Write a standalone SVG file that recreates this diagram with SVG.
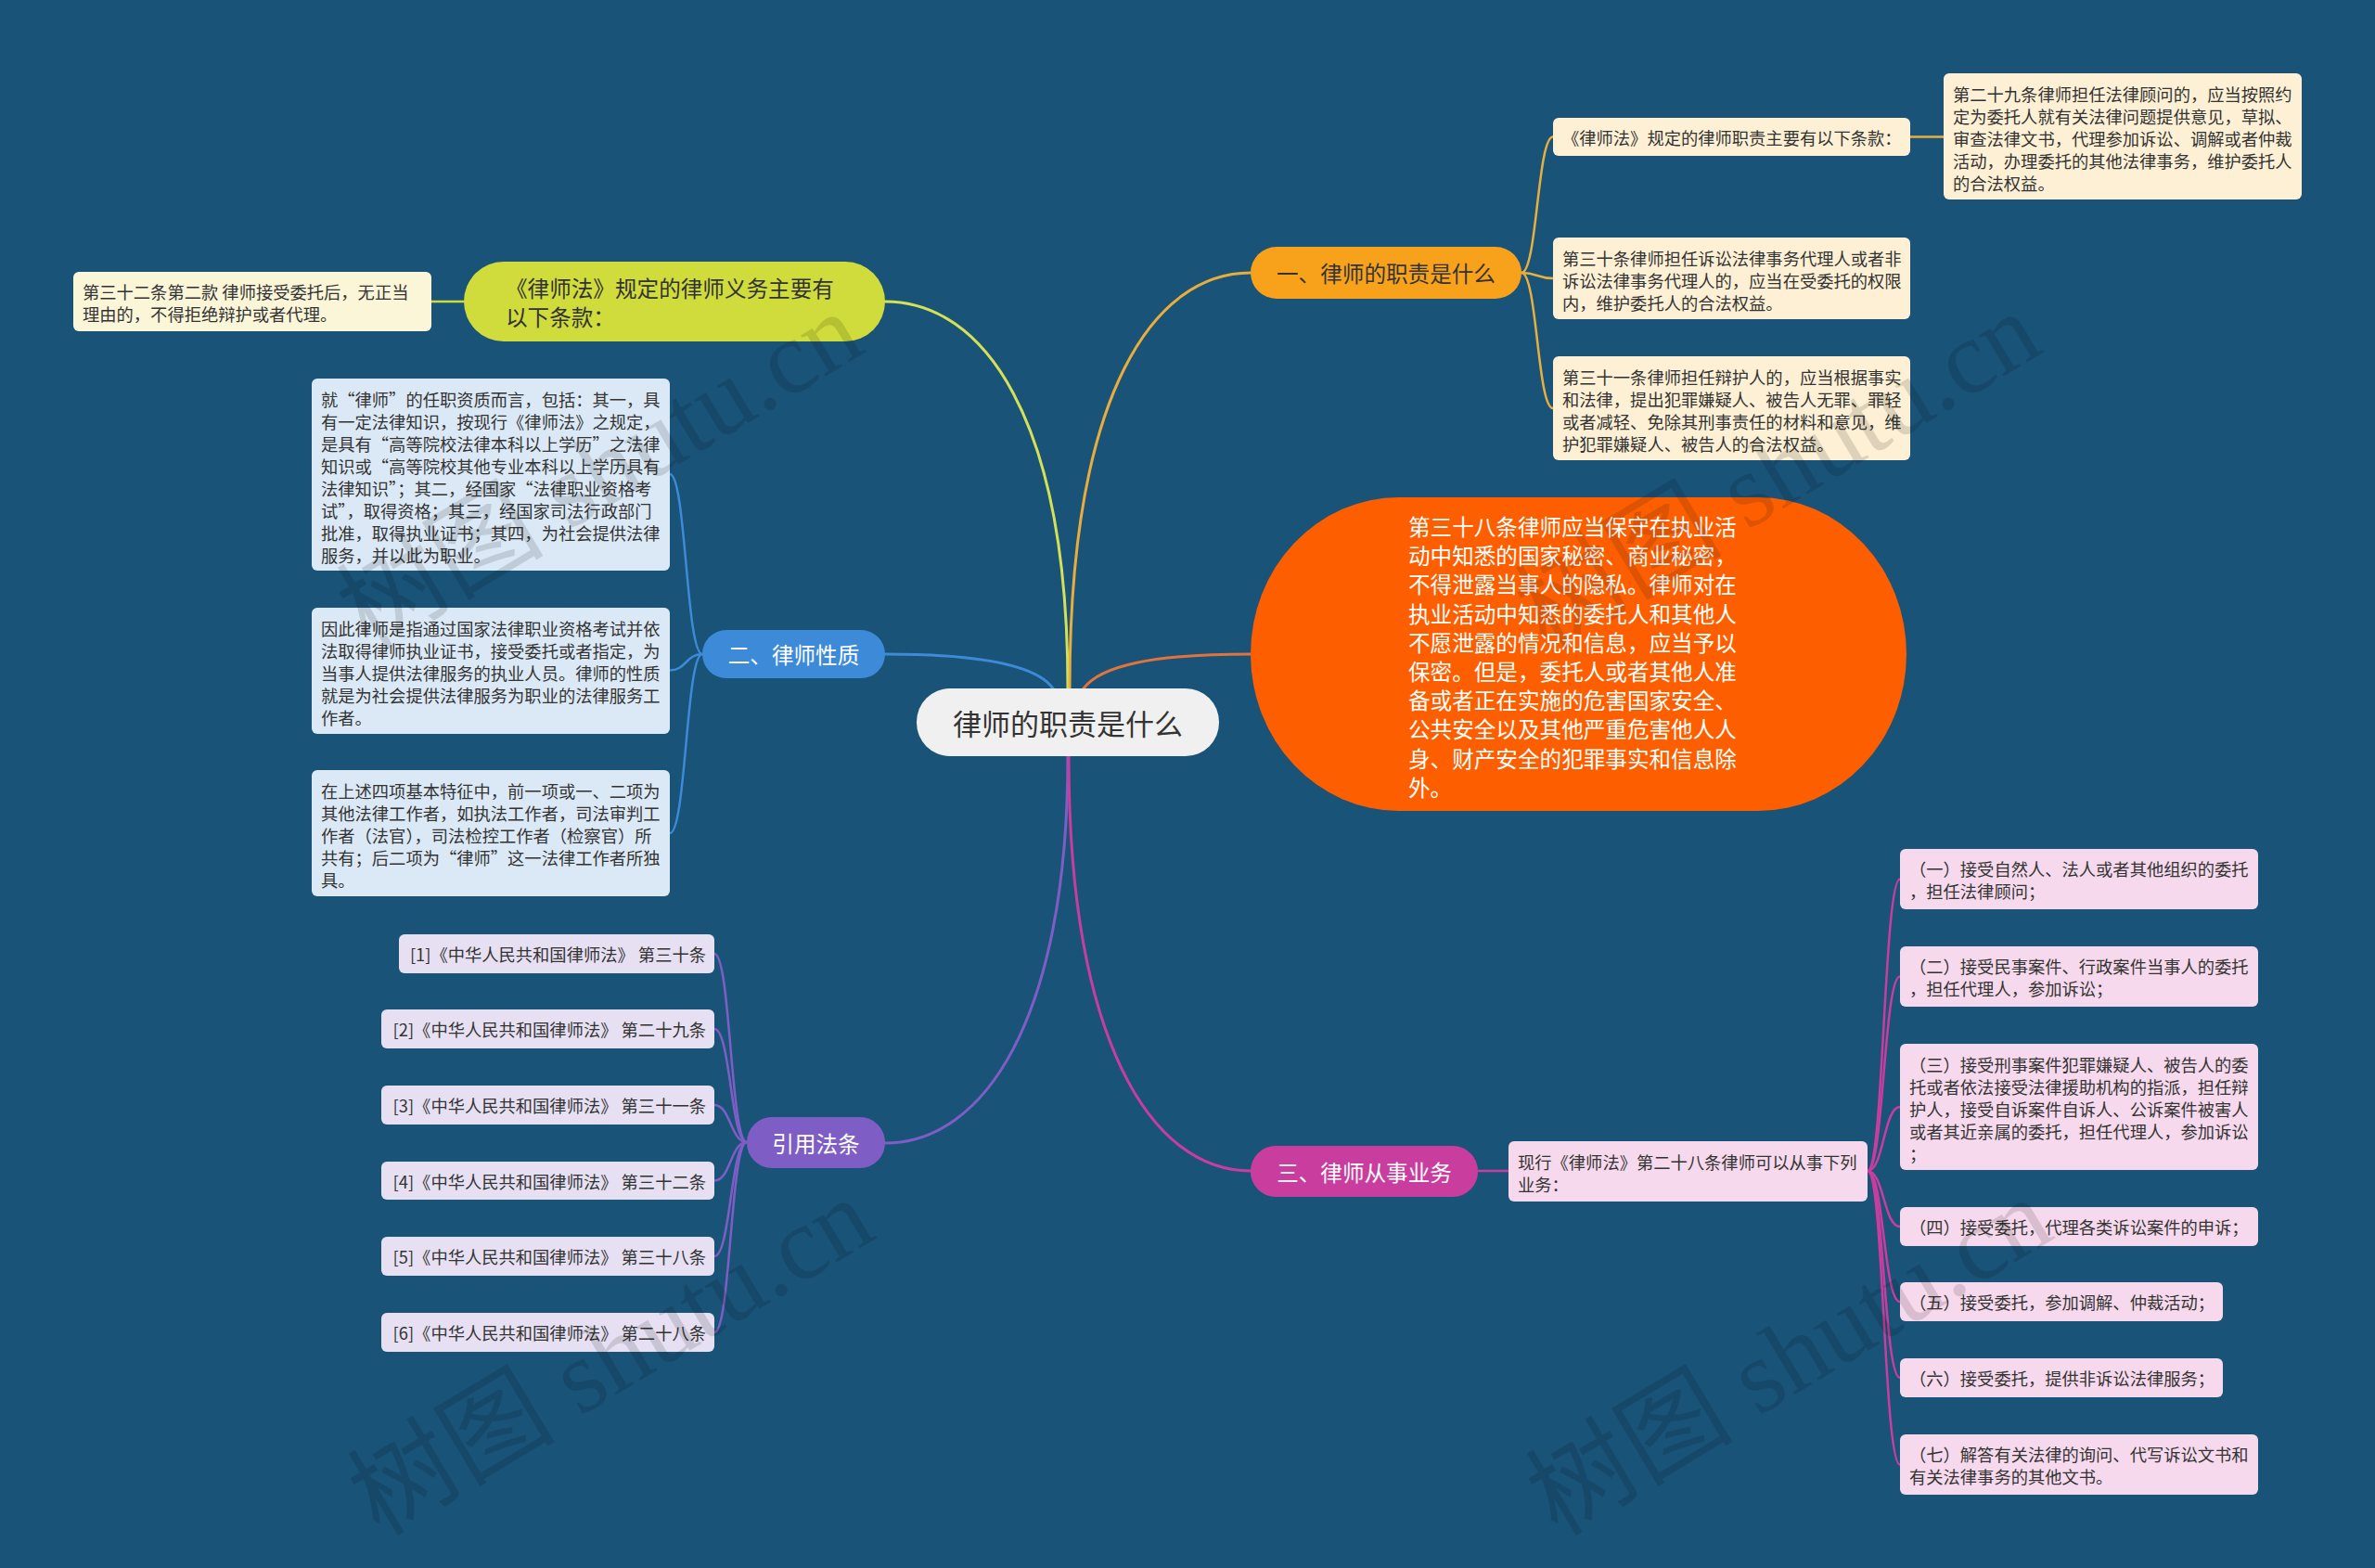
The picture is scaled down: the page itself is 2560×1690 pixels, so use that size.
<svg xmlns="http://www.w3.org/2000/svg" width="2560" height="1690" viewBox="0 0 2560 1690">
<style>
text{font-family:"Noto Sans CJK SC","Noto Sans",sans-serif;dominant-baseline:central}
.c{fill:none;stroke-width:3;stroke-linecap:round}
.s{fill:none;stroke-width:2.5;stroke-linecap:round}
.t{font-size:18.3px;fill:#333}
.fw{font-feature-settings:"fwid"}
.big{font-size:23.6px}
.wm{font-size:112px;fill:#000;opacity:0.12;font-family:"Liberation Serif","Noto Sans CJK SC",serif;dominant-baseline:auto}
</style>
<rect width="2560" height="1690" fill="#1a5378"/>
<g id="connectors">
<path class="c" stroke="#d4e157" d="M954,325 C1060,325 1151,450 1151,742"/>
<path class="c" stroke="#e9ad3e" d="M1348,294 C1245,294 1153,420 1153,742"/>
<path class="c" stroke="#3d8bd8" d="M954,705 C1060,705 1118,718 1135,742"/>
<path class="c" stroke="#e2733c" d="M1348,705 C1240,705 1186,718 1168,742"/>
<path class="c" stroke="#7e5ec4" d="M1151,815 C1151,1100 1060,1232 954,1232"/>
<path class="c" stroke="#c93d9f" d="M1152,815 C1152,1120 1240,1262 1348,1262"/>
<g stroke="#e6b040">
<path class="s" d="M1640,294 C1657,294 1657,147.5 1674,147.5"/>
<path class="s" d="M1640,294 C1657,294 1657,300 1674,300"/>
<path class="s" d="M1640,294 C1657,294 1657,440 1674,440"/>
<path class="s" d="M2059,147.5 L2095,147.5"/>
</g>
<path class="s" stroke="#cddc39" d="M500,325 L465,325"/>
<g stroke="#3d8bd8">
<path class="s" d="M757,705 C739.5,705 739.5,511 722,511"/>
<path class="s" d="M757,705 C739.5,705 739.5,722.5 722,722.5"/>
<path class="s" d="M757,705 C739.5,705 739.5,898 722,898"/>
</g>
<g stroke="#7e5ec4">
<path class="s" d="M805,1231 C787.5,1231 787.5,1028 770,1028"/>
<path class="s" d="M805,1231 C787.5,1231 787.5,1109 770,1109"/>
<path class="s" d="M805,1231 C787.5,1231 787.5,1191 770,1191"/>
<path class="s" d="M805,1231 C787.5,1231 787.5,1272.5 770,1272.5"/>
<path class="s" d="M805,1231 C787.5,1231 787.5,1354 770,1354"/>
<path class="s" d="M805,1231 C787.5,1231 787.5,1436 770,1436"/>
</g>
<g stroke="#c93d9f">
<path class="s" d="M1593,1262 L1626,1262"/>
<path class="s" d="M2013,1262 C2030.5,1262 2030.5,947.5 2048,947.5"/>
<path class="s" d="M2013,1262 C2030.5,1262 2030.5,1052.5 2048,1052.5"/>
<path class="s" d="M2013,1262 C2030.5,1262 2030.5,1193 2048,1193"/>
<path class="s" d="M2013,1262 C2030.5,1262 2030.5,1322 2048,1322"/>
<path class="s" d="M2013,1262 C2030.5,1262 2030.5,1403 2048,1403"/>
<path class="s" d="M2013,1262 C2030.5,1262 2030.5,1485 2048,1485"/>
<path class="s" d="M2013,1262 C2030.5,1262 2030.5,1578.5 2048,1578.5"/>
</g>
</g>

<g id="root">
<rect x="988" y="742" width="326" height="73" rx="36" fill="#f0f0f0"/>
<text x="1151" y="778" font-size="31" fill="#333" text-anchor="middle">律师的职责是什么</text>
</g>

<g id="b1">
<rect x="1348" y="266" width="292" height="56" rx="28" fill="#f8a21c"/>
<text x="1494" y="294" class="big" fill="#333" text-anchor="middle">一、律师的职责是什么</text>
</g>
<g id="b1-a">
<rect x="1674" y="127" width="385" height="41" rx="6" fill="#fdf0d4"/>
<text class="t" x="1684" y="147.5">《律师法》规定的律师职责主要有以下条款：</text>
</g>
<g id="b1-a1">
<rect x="2095" y="79" width="386" height="136" rx="6" fill="#fdf0d4"/>
<text class="t"><tspan x="2105" y="101">第二十九条律师担任法律顾问的，应当按照约</tspan><tspan x="2105" y="125">定为委托人就有关法律问题提供意见，草拟、</tspan><tspan x="2105" y="149">审查法律文书，代理参加诉讼、调解或者仲裁</tspan><tspan x="2105" y="173">活动，办理委托的其他法律事务，维护委托人</tspan><tspan x="2105" y="197">的合法权益。</tspan></text>
</g>
<g id="b1-b">
<rect x="1674" y="256" width="385" height="88" rx="6" fill="#fdf0d4"/>
<text class="t"><tspan x="1684" y="278">第三十条律师担任诉讼法律事务代理人或者非</tspan><tspan x="1684" y="302">诉讼法律事务代理人的，应当在受委托的权限</tspan><tspan x="1684" y="326">内，维护委托人的合法权益。</tspan></text>
</g>
<g id="b1-c">
<rect x="1674" y="384" width="385" height="112" rx="6" fill="#fdf0d4"/>
<text class="t"><tspan x="1684" y="406">第三十一条律师担任辩护人的，应当根据事实</tspan><tspan x="1684" y="430">和法律，提出犯罪嫌疑人、被告人无罪、罪轻</tspan><tspan x="1684" y="454">或者减轻、免除其刑事责任的材料和意见，维</tspan><tspan x="1684" y="478">护犯罪嫌疑人、被告人的合法权益。</tspan></text>
</g>

<g id="b2">
<rect x="500" y="282" width="454" height="86" rx="43" fill="#cfdc3b"/>
<text class="big" fill="#333"><tspan x="545" y="310">《律师法》规定的律师义务主要有</tspan><tspan x="545" y="341">以下条款：</tspan></text>
</g>
<g id="b2-a">
<rect x="79" y="293" width="386" height="64" rx="6" fill="#fbf6d8"/>
<text class="t"><tspan x="89" y="314">第三十二条第二款 律师接受委托后，无正当</tspan><tspan x="89" y="338">理由的，不得拒绝辩护或者代理。</tspan></text>
</g>

<g id="b3">
<rect x="757" y="679" width="197" height="52" rx="26" fill="#3d8bd8"/>
<text x="855.5" y="705" class="big" fill="#fff" text-anchor="middle">二、律师性质</text>
</g>
<g id="b3-a">
<rect x="336" y="408" width="386" height="207" rx="6" fill="#dbe9f6"/>
<text class="t fw"><tspan x="346" y="430">就“律师”的任职资质而言，包括：其一，具</tspan><tspan x="346" y="454">有一定法律知识，按现行《律师法》之规定，</tspan><tspan x="346" y="478">是具有“高等院校法律本科以上学历”之法律</tspan><tspan x="346" y="502">知识或“高等院校其他专业本科以上学历具有</tspan><tspan x="346" y="526">法律知识”；其二，经国家“法律职业资格考</tspan><tspan x="346" y="550">试”，取得资格；其三，经国家司法行政部门</tspan><tspan x="346" y="574">批准，取得执业证书；其四，为社会提供法律</tspan><tspan x="346" y="598">服务，并以此为职业。</tspan></text>
</g>
<g id="b3-b">
<rect x="336" y="655" width="386" height="136" rx="6" fill="#dbe9f6"/>
<text class="t"><tspan x="346" y="677">因此律师是指通过国家法律职业资格考试并依</tspan><tspan x="346" y="701">法取得律师执业证书，接受委托或者指定，为</tspan><tspan x="346" y="725">当事人提供法律服务的执业人员。律师的性质</tspan><tspan x="346" y="749">就是为社会提供法律服务为职业的法律服务工</tspan><tspan x="346" y="773">作者。</tspan></text>
</g>
<g id="b3-c">
<rect x="336" y="830" width="386" height="136" rx="6" fill="#dbe9f6"/>
<text class="t fw"><tspan x="346" y="852">在上述四项基本特征中，前一项或一、二项为</tspan><tspan x="346" y="876">其他法律工作者，如执法工作者，司法审判工</tspan><tspan x="346" y="900">作者（法官），司法检控工作者（检察官）所</tspan><tspan x="346" y="924">共有；后二项为“律师”这一法律工作者所独</tspan><tspan x="346" y="948">具。</tspan></text>
</g>

<g id="b4">
<rect x="1348" y="536" width="707" height="338" rx="160" ry="169" fill="#fd5f00"/>
<text class="big" fill="#fff"><tspan x="1518" y="567">第三十八条律师应当保守在执业活</tspan><tspan x="1518" y="598.2">动中知悉的国家秘密、商业秘密，</tspan><tspan x="1518" y="629.4">不得泄露当事人的隐私。律师对在</tspan><tspan x="1518" y="660.6">执业活动中知悉的委托人和其他人</tspan><tspan x="1518" y="691.8">不愿泄露的情况和信息，应当予以</tspan><tspan x="1518" y="723">保密。但是，委托人或者其他人准</tspan><tspan x="1518" y="754.2">备或者正在实施的危害国家安全、</tspan><tspan x="1518" y="785.4">公共安全以及其他严重危害他人人</tspan><tspan x="1518" y="816.6">身、财产安全的犯罪事实和信息除</tspan><tspan x="1518" y="847.8">外。</tspan></text>
</g>

<g id="b5">
<rect x="805" y="1204" width="149" height="55" rx="27" fill="#7e5ec4"/>
<text x="879.5" y="1231.5" class="big" fill="#fff" text-anchor="middle">引用法条</text>
</g>
<g id="b5-1"><rect x="430" y="1007" width="340" height="42" rx="6" fill="#e6e0f2"/><text class="t" x="761" y="1028" text-anchor="end">[1]《中华人民共和国律师法》 第三十条</text></g>
<g id="b5-2"><rect x="411" y="1088" width="359" height="42" rx="6" fill="#e6e0f2"/><text class="t" x="761" y="1109" text-anchor="end">[2]《中华人民共和国律师法》 第二十九条</text></g>
<g id="b5-3"><rect x="411" y="1170" width="359" height="42" rx="6" fill="#e6e0f2"/><text class="t" x="761" y="1191" text-anchor="end">[3]《中华人民共和国律师法》 第三十一条</text></g>
<g id="b5-4"><rect x="411" y="1252" width="359" height="41" rx="6" fill="#e6e0f2"/><text class="t" x="761" y="1272.5" text-anchor="end">[4]《中华人民共和国律师法》 第三十二条</text></g>
<g id="b5-5"><rect x="411" y="1333" width="359" height="42" rx="6" fill="#e6e0f2"/><text class="t" x="761" y="1354" text-anchor="end">[5]《中华人民共和国律师法》 第三十八条</text></g>
<g id="b5-6"><rect x="411" y="1415" width="359" height="42" rx="6" fill="#e6e0f2"/><text class="t" x="761" y="1436" text-anchor="end">[6]《中华人民共和国律师法》 第二十八条</text></g>

<g id="b6">
<rect x="1348" y="1235" width="245" height="55" rx="27" fill="#c93d9f"/>
<text x="1470.5" y="1262.5" class="big" fill="#fff" text-anchor="middle">三、律师从事业务</text>
</g>
<g id="b6-a">
<rect x="1626" y="1230" width="387" height="65" rx="6" fill="#f6d9ec"/>
<text class="t"><tspan x="1636" y="1252">现行《律师法》第二十八条律师可以从事下列</tspan><tspan x="1636" y="1276">业务：</tspan></text>
</g>
<g id="b6-1"><rect x="2048" y="915" width="386" height="65" rx="6" fill="#f6d9ec"/><text class="t"><tspan x="2058" y="936">（一）接受自然人、法人或者其他组织的委托</tspan><tspan x="2058" y="960">，担任法律顾问；</tspan></text></g>
<g id="b6-2"><rect x="2048" y="1020" width="386" height="65" rx="6" fill="#f6d9ec"/><text class="t"><tspan x="2058" y="1041">（二）接受民事案件、行政案件当事人的委托</tspan><tspan x="2058" y="1065">，担任代理人，参加诉讼；</tspan></text></g>
<g id="b6-3"><rect x="2048" y="1125" width="386" height="136" rx="6" fill="#f6d9ec"/><text class="t"><tspan x="2058" y="1147">（三）接受刑事案件犯罪嫌疑人、被告人的委</tspan><tspan x="2058" y="1171">托或者依法接受法律援助机构的指派，担任辩</tspan><tspan x="2058" y="1195">护人，接受自诉案件自诉人、公诉案件被害人</tspan><tspan x="2058" y="1219">或者其近亲属的委托，担任代理人，参加诉讼</tspan><tspan x="2058" y="1243">；</tspan></text></g>
<g id="b6-4"><rect x="2048" y="1301" width="386" height="42" rx="6" fill="#f6d9ec"/><text class="t" x="2058" y="1322">（四）接受委托，代理各类诉讼案件的申诉；</text></g>
<g id="b6-5"><rect x="2048" y="1382" width="348" height="42" rx="6" fill="#f6d9ec"/><text class="t" x="2058" y="1403">（五）接受委托，参加调解、仲裁活动；</text></g>
<g id="b6-6"><rect x="2048" y="1464" width="348" height="42" rx="6" fill="#f6d9ec"/><text class="t" x="2058" y="1485">（六）接受委托，提供非诉讼法律服务；</text></g>
<g id="b6-7"><rect x="2048" y="1546" width="386" height="65" rx="6" fill="#f6d9ec"/><text class="t"><tspan x="2058" y="1567">（七）解答有关法律的询问、代写诉讼文书和</tspan><tspan x="2058" y="1591">有关法律事务的其他文书。</tspan></text></g>

<g id="watermark">
<text class="wm" x="648" y="545" text-anchor="middle" transform="rotate(-31 648 510)">树图 shutu.cn</text>
<text class="wm" x="1918" y="545" text-anchor="middle" transform="rotate(-31 1918 510)">树图 shutu.cn</text>
<text class="wm" x="660" y="1500" text-anchor="middle" transform="rotate(-31 660 1465)">树图 shutu.cn</text>
<text class="wm" x="1930" y="1500" text-anchor="middle" transform="rotate(-31 1930 1465)">树图 shutu.cn</text>
</g>
</svg>
